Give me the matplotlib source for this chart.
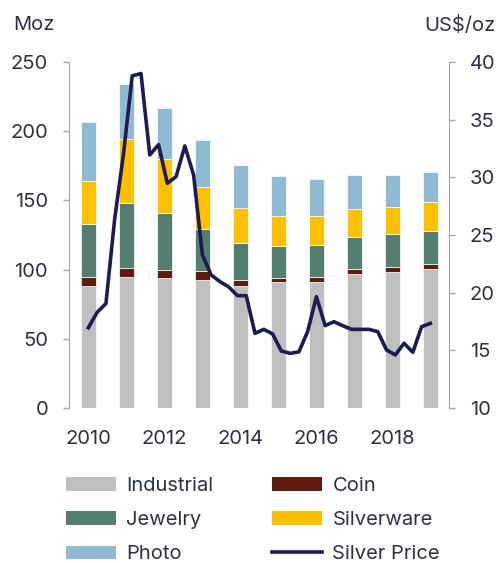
import numpy as np
import matplotlib
matplotlib.use("Agg")
import matplotlib.pyplot as plt

plt.rcParams['font.family'] = ['Inter', 'DejaVu Sans']

years = np.arange(2010, 2020)
industrial = [88, 95, 93.7, 92.7, 88.2, 91, 91.3, 96.6, 98.5, 100.7]
coin = [7, 6.3, 6.2, 6.1, 4.5, 3.2, 3.1, 3.6, 3.6, 3.6]
jewelry = [38, 47, 40.8, 30.8, 26.7, 23.1, 23.6, 23.4, 23.6, 23.6]
silverware = [31, 45.7, 39, 30.3, 25.3, 21.7, 21, 20.4, 19.8, 20.9]
photo = [43, 40.2, 37.3, 34, 31.1, 28.4, 26.5, 24.6, 23.1, 21.9]

# quarterly silver price, 2010Q1 .. 2019Q4
price = [16.96, 18.3, 19.05, 26.4, 32.0, 38.8, 39.0, 31.94, 32.83, 29.48,
         30.06, 32.72, 30.2, 23.27, 21.54, 20.96, 20.5, 19.74, 19.74, 16.47,
         16.82, 16.43, 14.94, 14.74, 14.86, 16.62, 19.65, 17.14, 17.48, 17.14,
         16.82, 16.82, 16.82, 16.62, 15.03, 14.6, 15.61, 14.83, 17.05, 17.34]
price_x = np.linspace(2010, 2019, len(price))

xticks = [2010, 2012, 2014, 2016, 2018]

c_ind = '#bfbfbf'
c_coin = '#5e1c0e'
c_jew = '#547e70'
c_silv = '#ffc000'
c_photo = '#8fbad3'
c_line = '#1e1a52'
txt = '#2d3142'
spine = '#a6a6a6'

fig = plt.figure(figsize=(5, 5.63), dpi=100)
ax = fig.add_axes([0.138, 0.2753, 0.76, 0.6146])

series = [(industrial, c_ind, 'Industrial'), (coin, c_coin, 'Coin'),
          (jewelry, c_jew, 'Jewelry'), (silverware, c_silv, 'Silverware'),
          (photo, c_photo, 'Photo')]
bottom = np.zeros(len(years))
handles = {}
for vals, col, lab in series:
    b = ax.bar(years, vals, 0.4, bottom=bottom, color=col, edgecolor='white',
               linewidth=0.5, label=lab)
    handles[lab] = b
    bottom += np.array(vals)

ax.set_xlim(2009.49, 2019.49)
ax.set_ylim(0, 250)
ax.set_yticks(range(0, 251, 50))
ax.set_xticks(xticks)
ax.tick_params(axis='x', length=0, pad=16, labelsize=14.5, labelcolor=txt)
ax.tick_params(axis='y', length=4.5, width=1, color=spine, pad=10.5, labelsize=14.5, labelcolor=txt)
for s in ['top', 'right', 'bottom']:
    ax.spines[s].set_visible(False)
ax.spines['left'].set_color(spine)

ax2 = ax.twinx()
ln, = ax2.plot(price_x, price, color=c_line, lw=2.6, label='Silver Price')
ax2.set_ylim(10, 40)
ax2.set_yticks(range(10, 41, 5))
ax2.tick_params(axis='y', length=4.5, width=1, color=spine, pad=10.5, labelsize=14.5, labelcolor=txt)
for s in ['top', 'left', 'bottom']:
    ax2.spines[s].set_visible(False)
ax2.spines['right'].set_color(spine)

fig.text(0.026, 0.955, 'Moz', fontsize=14.5, color=txt, va='center', ha='left')
fig.text(0.99, 0.955, 'US$/oz', fontsize=14.5, color=txt, va='center', ha='right')

hs = [handles['Industrial'], handles['Jewelry'], handles['Photo'],
      handles['Coin'], handles['Silverware'], ln]
labs = ['Industrial', 'Jewelry', 'Photo', 'Coin', 'Silverware', 'Silver Price']
leg = fig.legend(hs, labs, ncol=2, loc='upper left', bbox_to_anchor=(0.132, 0.1525),
                 frameon=False, fontsize=14.5, handlelength=2.5, handleheight=0.65,
                 handletextpad=0.5, columnspacing=2.9, labelspacing=0.8,
                 borderpad=0, borderaxespad=0)
for t in leg.get_texts():
    t.set_color(txt)
for h in leg.legend_handles:
    if not isinstance(h, matplotlib.lines.Line2D):
        h.set_edgecolor('none')

fig.savefig('out.png', dpi=100)
